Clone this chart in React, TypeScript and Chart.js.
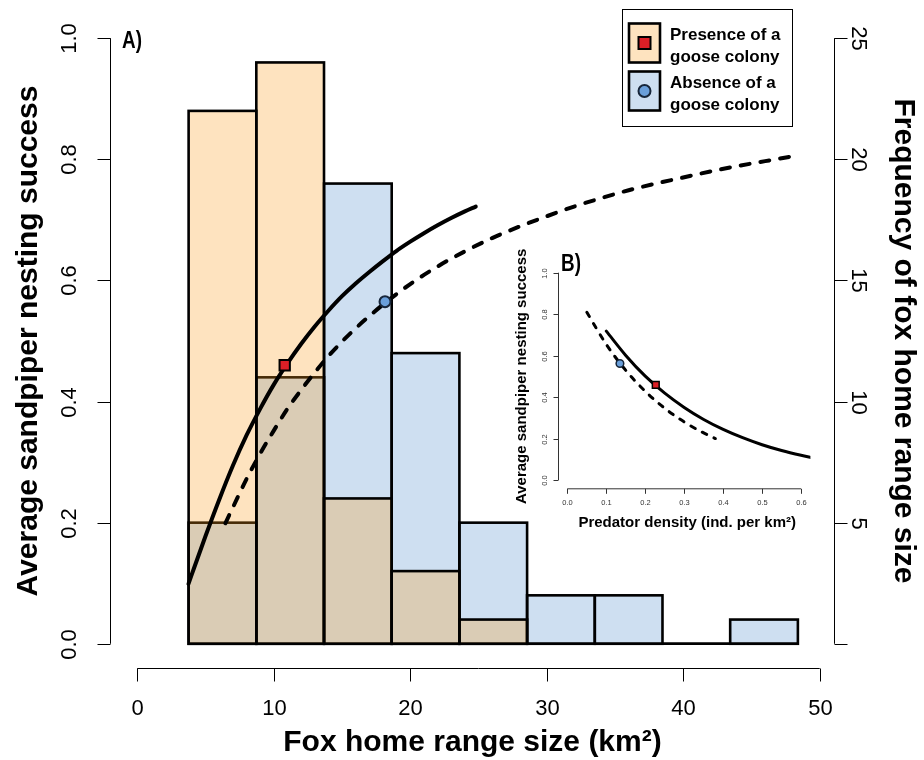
import React, { useEffect, useRef } from 'react';
import { Chart, registerables } from 'chart.js';

Chart.register(...registerables);

// ---------- DATA ----------
// Histogram of fox home range size (km²), bins of ~5 km²
const binCenters = [6.24, 11.2, 16.16, 21.12, 26.08, 31.04, 36.0, 40.96, 45.92];
const presenceCounts = [22, 24, 6, 3, 1, 0, 0, 0, 0];
const absenceCounts = [5, 11, 19, 12, 5, 2, 2, 0, 1];

// Nesting success vs home range size (panel A)
const presenceCurveX = [3.75, 4, 5, 6, 7, 8, 9, 10, 11, 12, 13, 14, 15, 16, 17, 18, 19, 20, 21, 22, 23, 24, 24.8];
const presenceCurveY = [0.099, 0.115, 0.178, 0.238, 0.294, 0.344, 0.388, 0.428, 0.463, 0.495, 0.524, 0.55, 0.574, 0.595, 0.614, 0.632, 0.649, 0.664, 0.678, 0.691, 0.703, 0.714, 0.722];
const absenceCurveX = [6.45, 7, 8, 9, 10, 11, 12, 13, 14, 15, 16, 18, 20, 22, 24, 26, 28, 30, 32, 34, 36, 38, 40, 42, 44, 46, 48.5];
const absenceCurveY = [0.199, 0.225, 0.272, 0.314, 0.352, 0.388, 0.419, 0.448, 0.475, 0.499, 0.521, 0.56, 0.594, 0.623, 0.648, 0.67, 0.689, 0.706, 0.722, 0.736, 0.749, 0.76, 0.77, 0.78, 0.789, 0.797, 0.807];
const presenceMean = [10.8, 0.46];
const absenceMean = [18.15, 0.565];

// Nesting success vs predator density (panel B)
const insetPresenceX = [0.1, 0.15, 0.2, 0.25, 0.3, 0.35, 0.4, 0.45, 0.5, 0.55, 0.6, 0.63];
const insetPresenceY = [0.718, 0.601, 0.501, 0.419, 0.35, 0.292, 0.244, 0.204, 0.17, 0.142, 0.119, 0.107];
const insetAbsenceX = [0.05, 0.1, 0.15, 0.2, 0.25, 0.3, 0.35, 0.38];
const insetAbsenceY = [0.809, 0.654, 0.529, 0.428, 0.346, 0.28, 0.227, 0.2];
const insetPresenceMean = [0.227, 0.459];
const insetAbsenceMean = [0.135, 0.562];

// Ticks and labels
const xTicks = [0, 10, 20, 30, 40, 50];
const leftTicks = [0, 0.2, 0.4, 0.6, 0.8, 1.0];
const leftTickLabels = ['0.0', '0.2', '0.4', '0.6', '0.8', '1.0'];
const rightTicks = [0, 5, 10, 15, 20, 25];
const rightTickLabels = ['', '5', '10', '15', '20', '25'];
const insetXTicks = [0, 0.1, 0.2, 0.3, 0.4, 0.5, 0.6];
const insetXTickLabels = ['0.0', '0.1', '0.2', '0.3', '0.4', '0.5', '0.6'];
const insetYTicks = [0, 0.2, 0.4, 0.6, 0.8, 1.0];
const insetYTickLabels = ['0.0', '0.2', '0.4', '0.6', '0.8', '1.0'];
const legendLines = [['Presence of a', 'goose colony'], ['Absence of a', 'goose colony']];

const xTitle = 'Fox home range size (km²)';
const leftTitle = 'Average sandpiper nesting success';
const rightTitle = 'Frequency of fox home range size';
const insetXTitle = 'Predator density (ind. per km²)';
const insetYTitle = 'Average sandpiper nesting success';

// ---------- STYLE ----------
const SANS = '"Liberation Sans", Arial, Helvetica, sans-serif';
const PRESENCE_FILL = 'rgba(251,155,26,0.28)';
const ABSENCE_FILL = '#CEDFF1';
const RED = '#DC1F26';
const BLUE_PT = '#6A9FDA';
const BLUE_EDGE = '#17263a';

function pts(xs: number[], ys: number[]) {
  return xs.map((x, i) => ({ x, y: ys[i] }));
}

function rotText(ctx: CanvasRenderingContext2D, text: string, x: number, y: number, angle: number, font: string) {
  ctx.save();
  ctx.translate(x, y);
  ctx.rotate(angle);
  ctx.font = font;
  ctx.textAlign = 'center';
  ctx.textBaseline = 'middle';
  ctx.fillText(text, 0, 0);
  ctx.restore();
}

function condensedText(ctx: CanvasRenderingContext2D, text: string, x: number, y: number, font: string) {
  ctx.save();
  ctx.translate(x, y);
  ctx.scale(0.82, 1);
  ctx.font = font;
  ctx.textAlign = 'center';
  ctx.textBaseline = 'middle';
  ctx.fillText(text, 0, 0);
  ctx.restore();
}

function line(ctx: CanvasRenderingContext2D, x1: number, y1: number, x2: number, y2: number) {
  ctx.beginPath();
  ctx.moveTo(x1, y1);
  ctx.lineTo(x2, y2);
  ctx.stroke();
}

const barOutlinePlugin = {
  id: 'barOutline',
  afterDatasetDraw(chart: any, args: any) {
    const meta = args.meta;
    if (meta.type !== 'bar') return;
    const ctx = chart.ctx as CanvasRenderingContext2D;
    ctx.save();
    ctx.strokeStyle = '#000';
    ctx.lineWidth = 2.6;
    ctx.lineJoin = 'miter';
    meta.data.forEach((el: any) => {
      const p = el.getProps(['x', 'y', 'base', 'width'], true);
      const top = Math.min(p.y, p.base);
      ctx.strokeRect(p.x - p.width / 2, top, p.width, Math.abs(p.base - p.y));
    });
    ctx.restore();
  },
};

const mainAxesPlugin = {
  id: 'mainAxes',
  afterDraw(chart: any) {
    const ctx = chart.ctx as CanvasRenderingContext2D;
    const a = chart.chartArea;
    const sx = chart.scales.x;
    const sy = chart.scales.y;
    const sy2 = chart.scales.y2;
    const T = 13;
    const tickFont = `22px ${SANS}`;
    const titleFont = `bold 30px ${SANS}`;
    ctx.save();
    ctx.strokeStyle = '#000';
    ctx.fillStyle = '#000';
    ctx.lineWidth = 1;

    // bottom axis
    const by = a.bottom + 0.5;
    line(ctx, sx.getPixelForValue(xTicks[0]), by, sx.getPixelForValue(xTicks[xTicks.length - 1]), by);
    ctx.font = tickFont;
    ctx.textAlign = 'center';
    ctx.textBaseline = 'middle';
    xTicks.forEach((v) => {
      const px = Math.round(sx.getPixelForValue(v)) + 0.5;
      line(ctx, px, by, px, by + T);
      ctx.fillText(String(v), px, a.bottom + 41);
    });

    // left axis
    const lx = a.left + 0.5;
    line(ctx, lx, sy.getPixelForValue(leftTicks[0]), lx, sy.getPixelForValue(leftTicks[leftTicks.length - 1]));
    leftTicks.forEach((v, i) => {
      const py = Math.round(sy.getPixelForValue(v)) + 0.5;
      line(ctx, lx - T, py, lx, py);
      rotText(ctx, leftTickLabels[i], a.left - 40, py, -Math.PI / 2, tickFont);
    });

    // right axis
    const rx = a.right - 0.5;
    line(ctx, rx, sy2.getPixelForValue(rightTicks[0]), rx, sy2.getPixelForValue(rightTicks[rightTicks.length - 1]));
    rightTicks.forEach((v, i) => {
      const py = Math.round(sy2.getPixelForValue(v)) + 0.5;
      line(ctx, rx, py, rx + T, py);
      if (rightTickLabels[i]) rotText(ctx, rightTickLabels[i], a.right + 23, py, Math.PI / 2, tickFont);
    });

    // titles
    const cy = (a.top + a.bottom) / 2;
    ctx.font = titleFont;
    ctx.textAlign = 'center';
    ctx.textBaseline = 'middle';
    ctx.fillText(xTitle, (a.left + a.right) / 2, a.bottom + 75);
    rotText(ctx, leftTitle, a.left - 81, cy, -Math.PI / 2, titleFont);
    rotText(ctx, rightTitle, a.right + 68, cy, Math.PI / 2, titleFont);

    // panel label
    condensedText(ctx, 'A)', a.left + 22, a.top + 28, `bold 23px ${SANS}`);

    // legend
    const bx = 622.5, byy = 9.5, bw = 170, bh = 117;
    ctx.lineWidth = 1;
    ctx.strokeStyle = '#000';
    ctx.strokeRect(bx, byy, bw, bh);
    const swTops = [23.5, 71.5];
    const fills = [PRESENCE_FILL, ABSENCE_FILL];
    legendLines.forEach((lines, i) => {
      const top = swTops[i];
      ctx.fillStyle = '#fff';
      ctx.fillRect(629, top, 31, 39);
      ctx.fillStyle = fills[i];
      ctx.fillRect(629, top, 31, 39);
      ctx.lineWidth = 2.6;
      ctx.strokeStyle = '#000';
      ctx.strokeRect(629, top, 31, 39);
      const mx = 644.5, my = top + 19.5;
      ctx.lineWidth = 2;
      if (i === 0) {
        ctx.fillStyle = RED;
        ctx.fillRect(mx - 6, my - 6, 12, 12);
        ctx.strokeStyle = '#000';
        ctx.strokeRect(mx - 6, my - 6, 12, 12);
      } else {
        ctx.beginPath();
        ctx.arc(mx, my, 6, 0, Math.PI * 2);
        ctx.fillStyle = BLUE_PT;
        ctx.fill();
        ctx.strokeStyle = BLUE_EDGE;
        ctx.stroke();
      }
      ctx.fillStyle = '#000';
      ctx.font = `bold 17px ${SANS}`;
      ctx.textAlign = 'left';
      ctx.textBaseline = 'alphabetic';
      ctx.fillText(lines[0], 670, top + 16);
      ctx.fillText(lines[1], 670, top + 38);
    });
    ctx.restore();
  },
};

const insetAxesPlugin = {
  id: 'insetAxes',
  afterDraw(chart: any) {
    const ctx = chart.ctx as CanvasRenderingContext2D;
    const a = chart.chartArea;
    const sx = chart.scales.x;
    const sy = chart.scales.y;
    const T = 5;
    const tickFont = `7.5px ${SANS}`;
    const titleFont = `bold 15px ${SANS}`;
    ctx.save();
    ctx.strokeStyle = '#333';
    ctx.fillStyle = '#333';
    ctx.lineWidth = 1;

    const by = a.bottom + 0.5;
    line(ctx, sx.getPixelForValue(insetXTicks[0]), by, sx.getPixelForValue(insetXTicks[insetXTicks.length - 1]), by);
    ctx.font = tickFont;
    ctx.textAlign = 'center';
    ctx.textBaseline = 'middle';
    insetXTicks.forEach((v, i) => {
      const px = Math.round(sx.getPixelForValue(v)) + 0.5;
      line(ctx, px, by, px, by + T);
      ctx.fillText(insetXTickLabels[i], px, a.bottom + 14.5);
    });

    const lx = a.left + 0.5;
    line(ctx, lx, sy.getPixelForValue(insetYTicks[0]), lx, sy.getPixelForValue(insetYTicks[insetYTicks.length - 1]));
    insetYTicks.forEach((v, i) => {
      const py = Math.round(sy.getPixelForValue(v)) + 0.5;
      line(ctx, lx - T, py, lx, py);
      rotText(ctx, insetYTickLabels[i], a.left - 13, py, -Math.PI / 2, tickFont);
    });

    ctx.fillStyle = '#000';
    ctx.font = titleFont;
    ctx.textAlign = 'center';
    ctx.textBaseline = 'middle';
    ctx.fillText(insetXTitle, (a.left + a.right) / 2 + 3, a.bottom + 35);
    rotText(ctx, insetYTitle, a.left - 36, (a.top + a.bottom) / 2, -Math.PI / 2, titleFont);
    condensedText(ctx, 'B)', a.left + 13, a.top, `bold 23px ${SANS}`);
    ctx.restore();
  },
};

const commonOptions = {
  responsive: false,
  maintainAspectRatio: false,
  animation: false as const,
  devicePixelRatio: 1,
  events: [] as any[],
  plugins: { legend: { display: false }, tooltip: { enabled: false }, title: { display: false } },
};

export default function App() {
  const mainRef = useRef<HTMLCanvasElement | null>(null);
  const insetRef = useRef<HTMLCanvasElement | null>(null);

  useEffect(() => {
    if (!mainRef.current || !insetRef.current) return;

    const main = new Chart(mainRef.current, {
      type: 'bar',
      data: {
        datasets: [
          {
            type: 'line', label: 'Presence mean', data: [{ x: presenceMean[0], y: presenceMean[1] }], yAxisID: 'y',
            showLine: false, pointStyle: 'rect', pointRadius: 7.3, pointBackgroundColor: RED,
            pointBorderColor: '#000', pointBorderWidth: 2, order: 0,
          } as any,
          {
            type: 'line', label: 'Absence mean', data: [{ x: absenceMean[0], y: absenceMean[1] }], yAxisID: 'y',
            showLine: false, pointStyle: 'circle', pointRadius: 5.5, pointBackgroundColor: BLUE_PT,
            pointBorderColor: BLUE_EDGE, pointBorderWidth: 2, order: 1,
          },
          {
            type: 'line', label: 'Presence curve', data: pts(presenceCurveX, presenceCurveY), yAxisID: 'y',
            borderColor: '#000', borderWidth: 4, pointRadius: 0, borderCapStyle: 'round', borderJoinStyle: 'round',
            cubicInterpolationMode: 'monotone', order: 2,
          },
          {
            type: 'line', label: 'Absence curve', data: pts(absenceCurveX, absenceCurveY), yAxisID: 'y',
            borderColor: '#000', borderWidth: 4, borderDash: [9, 11], pointRadius: 0, borderCapStyle: 'round',
            borderJoinStyle: 'round', cubicInterpolationMode: 'monotone', order: 3,
          },
          {
            type: 'bar', label: 'Presence of a goose colony', data: pts(binCenters, presenceCounts), yAxisID: 'y2',
            backgroundColor: PRESENCE_FILL, borderWidth: 0, grouped: false, barPercentage: 1, categoryPercentage: 1,
            inflateAmount: 0, order: 4,
          },
          {
            type: 'bar', label: 'Absence of a goose colony', data: pts(binCenters, absenceCounts), yAxisID: 'y2',
            backgroundColor: ABSENCE_FILL, borderWidth: 0, grouped: false, barPercentage: 1, categoryPercentage: 1,
            inflateAmount: 0, order: 5,
          },
        ] as any,
      },
      options: {
        ...commonOptions,
        layout: { padding: { left: 110, right: 89, top: 14, bottom: 92 } },
        scales: {
          x: {
            type: 'linear', min: -2, max: 51.12, display: false, offset: false,
            afterBuildTicks: (s: any) => { s.ticks = xTicks.map((v) => ({ value: v })); },
          },
          y: { type: 'linear', min: -0.04, max: 1.04, display: false },
          y2: { type: 'linear', min: -1, max: 26, display: false, position: 'right' },
        },
      } as any,
      plugins: [barOutlinePlugin, mainAxesPlugin],
    });

    const inset = new Chart(insetRef.current, {
      type: 'line',
      data: {
        datasets: [
          {
            label: 'Presence mean', data: [{ x: insetPresenceMean[0], y: insetPresenceMean[1] }], showLine: false,
            pointStyle: 'rect', pointRadius: 4.8, pointBackgroundColor: RED, pointBorderColor: '#000',
            pointBorderWidth: 1.5, order: 0,
          },
          {
            label: 'Absence mean', data: [{ x: insetAbsenceMean[0], y: insetAbsenceMean[1] }], showLine: false,
            pointStyle: 'circle', pointRadius: 3.8, pointBackgroundColor: BLUE_PT, pointBorderColor: BLUE_EDGE,
            pointBorderWidth: 1.5, order: 1,
          },
          {
            label: 'Presence curve', data: pts(insetPresenceX, insetPresenceY), borderColor: '#000', borderWidth: 3,
            pointRadius: 0, borderCapStyle: 'round', cubicInterpolationMode: 'monotone', order: 2,
          },
          {
            label: 'Absence curve', data: pts(insetAbsenceX, insetAbsenceY), borderColor: '#000', borderWidth: 3,
            borderDash: [5, 8], pointRadius: 0, borderCapStyle: 'round', cubicInterpolationMode: 'monotone', order: 3,
          },
        ] as any,
      },
      options: {
        ...commonOptions,
        layout: { padding: { left: 88, right: 19.6, top: 24.4, bottom: 51.7 } },
        scales: {
          x: { type: 'linear', min: -0.024, max: 0.624, display: false },
          y: { type: 'linear', min: -0.04, max: 1.04, display: false },
        },
      } as any,
      plugins: [insetAxesPlugin],
    });

    return () => {
      main.destroy();
      inset.destroy();
    };
  }, []);

  return (
    <div style={{ position: 'absolute', left: 0, top: 0, width: 924, height: 760, background: '#fff' }}>
      <canvas ref={mainRef} width={924} height={760} style={{ position: 'absolute', left: 0, top: 0 }} />
      <canvas ref={insetRef} width={360} height={300} style={{ position: 'absolute', left: 470, top: 240 }} />
    </div>
  );
}
